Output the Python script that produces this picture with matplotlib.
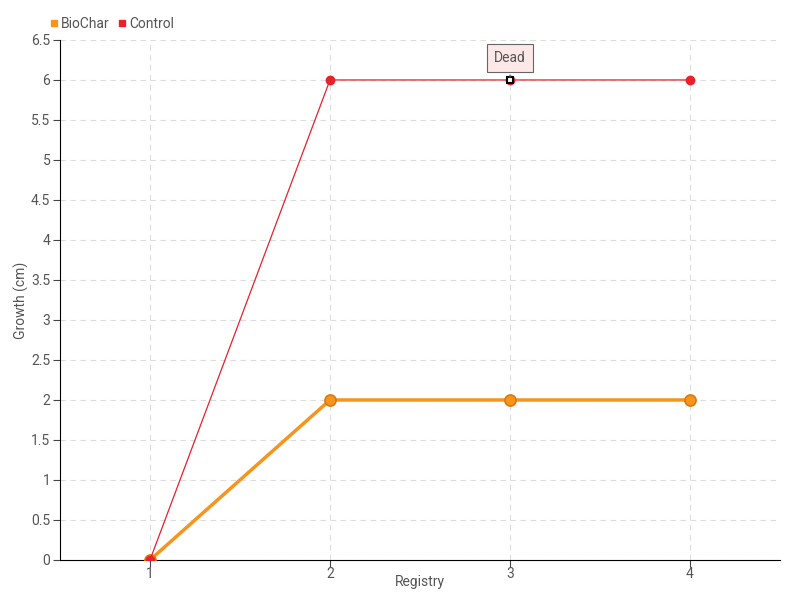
import matplotlib
matplotlib.use("Agg")
import matplotlib.pyplot as plt
from matplotlib.lines import Line2D

registry = [1, 2, 3, 4]
biochar = [0, 2, 2, 2]
control = [0, 6, 6, 6]
dead_index = 2
dead_label = "Dead"
yticks = [0, 0.5, 1, 1.5, 2, 2.5, 3, 3.5, 4, 4.5, 5, 5.5, 6, 6.5]
ytick_labels = ["0", "0.5", "1", "1.5", "2", "2.5", "3", "3.5", "4", "4.5", "5", "5.5", "6", "6.5"]

plt.rcParams['font.family'] = ['Roboto', 'DejaVu Sans']
plt.rcParams['font.stretch'] = 'condensed'
txt = '#555555'

fig = plt.figure(figsize=(8, 6), dpi=100)
ax = fig.add_axes([0.075, 0.0667, 0.9, 0.8667])

orange = '#f7941d'
red = '#e8212a'

ax.plot(registry, biochar, color=orange, lw=2.5, marker='o', ms=8,
        markerfacecolor=orange, markeredgecolor='#d97a10', markeredgewidth=1.2, zorder=3)
ax.plot(registry, control, color=red, lw=0.9, marker='o', ms=6,
        markerfacecolor=red, markeredgecolor=red, zorder=4)
ax.plot([registry[dead_index]], [control[dead_index]], marker='s', ms=4.5,
        markerfacecolor='white', markeredgecolor='black', markeredgewidth=1.5, zorder=5)

ax.annotate(dead_label, xy=(registry[dead_index], control[dead_index]),
            xytext=(0, 16), textcoords='offset points', ha='center', va='center',
            fontsize=10, color=txt,
            bbox=dict(boxstyle='square,pad=0.5', fc='#fde8e8', ec='#666666', lw=0.8),
            arrowprops=dict(arrowstyle='-', color='#666666', lw=0.8), zorder=6)

ax.set_xlim(0.5, 4.5)
ax.set_ylim(0, 6.5)
ax.set_xticks(registry)
ax.set_xticklabels([str(r) for r in registry])
ax.set_yticks(yticks)
ax.set_yticklabels(ytick_labels)
ax.grid(True, color='#dddddd', linestyle=(0, (5, 4)), lw=0.8)
ax.set_axisbelow(True)
for s in ['top', 'right']:
    ax.spines[s].set_visible(False)
ax.spines['left'].set_color('black')
ax.spines['bottom'].set_color('black')
ax.tick_params(axis='both', colors='#444444', labelcolor=txt, labelsize=10, length=5, pad=2)
ax.tick_params(axis='x', pad=0)
ax.set_xlabel('Registry', color=txt, fontsize=10)
ax.set_ylabel('Growth (cm)', color=txt, fontsize=10)
ax.xaxis.set_label_coords(0.5, -0.028)
ax.yaxis.set_label_coords(-0.043, 0.5)

handles = [Line2D([], [], ls='', marker='s', ms=4.5, color=orange),
           Line2D([], [], ls='', marker='s', ms=4.5, color=red)]
fig.legend(handles, ['BioChar', 'Control'], loc='upper left', bbox_to_anchor=(0.045, 0.993),
           ncol=2, frameon=False, fontsize=10, labelcolor=txt, handletextpad=0.1,
           columnspacing=0.5, handlelength=0.8)

fig.savefig('out.png', dpi=100)
